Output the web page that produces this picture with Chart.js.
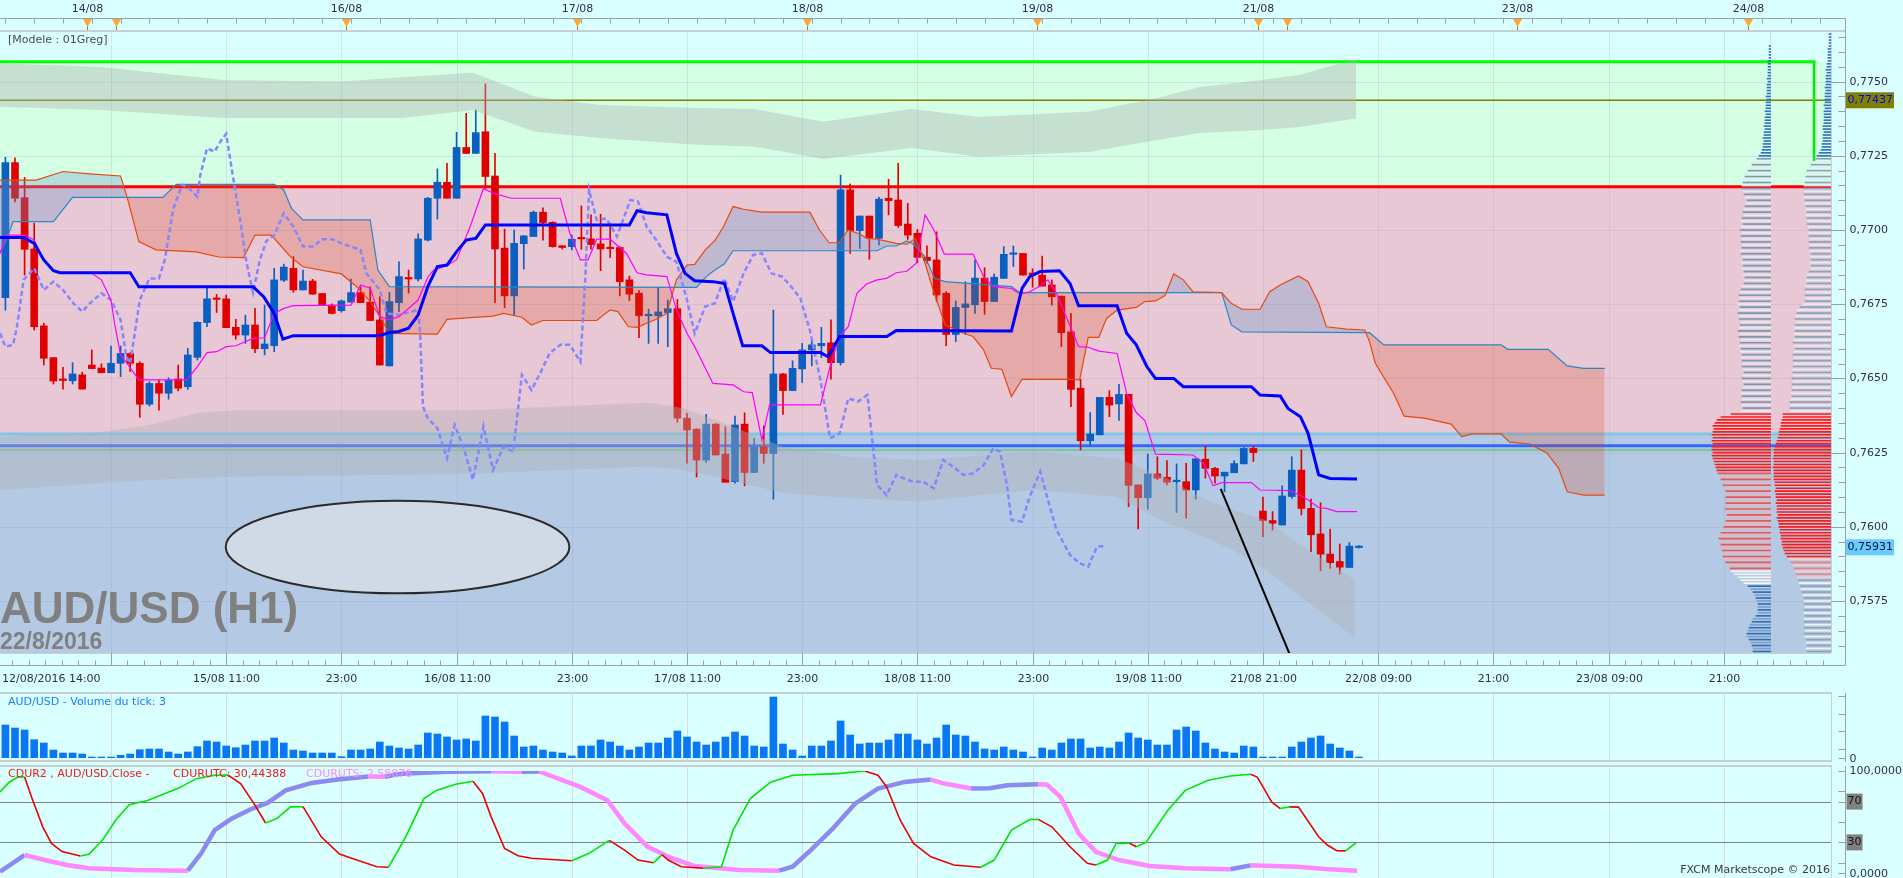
<!DOCTYPE html>
<html>
<head>
<meta charset="utf-8">
<script src="https://cdn.jsdelivr.net/npm/chart.js@4.4.1/dist/chart.umd.min.js"></script>
<style>
  html, body { margin: 0; padding: 0; background: #daffff; overflow: hidden; }
  #wrap { position: relative; width: 1903px; height: 878px; }
  canvas { position: absolute; }
</style>
</head>
<body>
<div id="wrap">
  <canvas id="main" width="1903" height="690" style="left:0;top:0"></canvas>
  <canvas id="profL" width="71" height="690" style="left:1700px;top:0"></canvas>
  <canvas id="profR" width="71" height="690" style="left:1760px;top:0"></canvas>
  <canvas id="vol" width="1903" height="73" style="left:0;top:690px"></canvas>
  <canvas id="osc" width="1903" height="115" style="left:0;top:763px"></canvas>
</div>
<script>
// ---- hourly bars, AUD/USD H1, 12/08/2016 14:00 -> 22/08/2016 07:00 ----
const barOpen = [0.76772,0.77227,0.77109,0.76936,0.76677,0.76570,0.76494,0.76492,0.76512,0.76545,
  0.76535,0.76519,0.76551,0.76584,0.76551,0.76413,0.76483,0.76450,0.76498,0.76472,
  0.76571,0.76688,0.76768,0.76768,0.76672,0.76646,0.76680,0.76600,0.76610,0.76831,
  0.76871,0.76798,0.76828,0.76786,0.76747,0.76728,0.76757,0.76789,0.76757,0.76697,
  0.76542,0.76755,0.76837,0.76835,0.76966,0.77107,0.77161,0.77107,0.77278,0.77258,
  0.77331,0.77182,0.76939,0.76778,0.76954,0.76978,0.77060,0.77026,0.76947,0.76944,
  0.76971,0.76970,0.76953,0.76938,0.76941,0.76832,0.76787,0.76711,0.76711,0.76722,
  0.76735,0.76366,0.76329,0.76225,0.76346,0.76245,0.76152,0.76346,0.76183,0.76270,
  0.76247,0.76515,0.76459,0.76532,0.76596,0.76610,0.76620,0.76553,0.77135,0.76998,
  0.77047,0.76972,0.77107,0.77101,0.77020,0.76989,0.76908,0.76899,0.76787,0.76648,
  0.76739,0.76748,0.76838,0.76759,0.76837,0.76918,0.76921,0.76851,0.76848,0.76815,
  0.76777,0.76657,0.76467,0.76290,0.76310,0.76436,0.76414,0.76446,0.76141,0.76098,
  0.76178,0.76167,0.76152,0.76152,0.76124,0.76228,0.76197,0.76171,0.76182,0.76212,
  0.76264,0.76053,0.76021,0.76006,0.76102,0.76191,0.76062,0.75976,0.75908,0.75883,
  0.75863,0.75930];
const barHigh = [0.77245,0.77243,0.77177,0.77023,0.76686,0.76570,0.76537,0.76553,0.76521,0.76596,
  0.76549,0.76609,0.76609,0.76587,0.76556,0.76489,0.76494,0.76502,0.76545,0.76601,
  0.76691,0.76807,0.76783,0.76781,0.76699,0.76713,0.76736,0.76747,0.76871,0.76885,
  0.76910,0.76865,0.76834,0.76786,0.76751,0.76764,0.76835,0.76809,0.76809,0.76775,
  0.76790,0.76893,0.76865,0.76987,0.77110,0.77206,0.77225,0.77329,0.77393,0.77404,
  0.77492,0.77258,0.77003,0.77000,0.76982,0.77064,0.77075,0.77028,0.76947,0.76983,
  0.77081,0.77051,0.77053,0.77022,0.76944,0.76845,0.76796,0.76733,0.76807,0.76764,
  0.76766,0.76382,0.76331,0.76379,0.76348,0.76337,0.76373,0.76384,0.76298,0.76340,
  0.76730,0.76517,0.76559,0.76618,0.76629,0.76672,0.76697,0.77185,0.77155,0.77047,
  0.77047,0.77110,0.77171,0.77225,0.77090,0.77002,0.76947,0.76994,0.76792,0.76761,
  0.76826,0.76899,0.76873,0.76852,0.76944,0.76946,0.76921,0.76869,0.76912,0.76832,
  0.76777,0.76719,0.76497,0.76385,0.76436,0.76459,0.76480,0.76446,0.76141,0.76245,
  0.76236,0.76223,0.76212,0.76214,0.76229,0.76272,0.76200,0.76184,0.76223,0.76267,
  0.76272,0.76100,0.76051,0.76138,0.76236,0.76259,0.76093,0.76081,0.75992,0.75942,
  0.75947,0.75937];
const barLow = [0.76730,0.77095,0.76848,0.76663,0.76545,0.76481,0.76464,0.76481,0.76464,0.76533,
  0.76519,0.76519,0.76506,0.76523,0.76369,0.76407,0.76393,0.76430,0.76458,0.76463,
  0.76562,0.76674,0.76722,0.76671,0.76632,0.76618,0.76587,0.76579,0.76590,0.76826,
  0.76790,0.76798,0.76783,0.76747,0.76717,0.76723,0.76757,0.76755,0.76695,0.76545,
  0.76542,0.76725,0.76787,0.76828,0.76963,0.77037,0.77107,0.77107,0.77258,0.77258,
  0.77140,0.76755,0.76738,0.76714,0.76868,0.76978,0.76966,0.76942,0.76936,0.76933,
  0.76935,0.76935,0.76863,0.76907,0.76778,0.76762,0.76637,0.76618,0.76618,0.76607,
  0.76352,0.76214,0.76168,0.76216,0.76242,0.76150,0.76147,0.76138,0.76183,0.76214,
  0.76093,0.76379,0.76459,0.76486,0.76542,0.76570,0.76497,0.76545,0.76921,0.76938,
  0.76901,0.76949,0.77051,0.77009,0.76968,0.76890,0.76888,0.76759,0.76610,0.76624,
  0.76648,0.76719,0.76716,0.76759,0.76837,0.76877,0.76848,0.76807,0.76811,0.76747,
  0.76607,0.76405,0.76259,0.76276,0.76310,0.76371,0.76358,0.76068,0.75993,0.76059,
  0.76158,0.76141,0.76048,0.76029,0.76093,0.76164,0.76147,0.76118,0.76182,0.76212,
  0.76220,0.75967,0.75989,0.76006,0.76096,0.76040,0.75916,0.75852,0.75860,0.75841,
  0.75863,0.75928];
const barClose = [0.77227,0.77107,0.76935,0.76674,0.76568,0.76491,0.76493,0.76515,0.76464,0.76533,
  0.76519,0.76551,0.76584,0.76551,0.76413,0.76483,0.76450,0.76494,0.76467,0.76579,
  0.76689,0.76768,0.76766,0.76671,0.76646,0.76680,0.76600,0.76616,0.76832,0.76875,
  0.76798,0.76828,0.76784,0.76747,0.76719,0.76761,0.76789,0.76755,0.76695,0.76545,
  0.76759,0.76843,0.76835,0.76970,0.77107,0.77161,0.77107,0.77278,0.77258,0.77328,
  0.77180,0.76936,0.76778,0.76955,0.76980,0.77060,0.77025,0.76944,0.76941,0.76969,
  0.76970,0.76951,0.76936,0.76937,0.76826,0.76784,0.76711,0.76712,0.76724,0.76735,
  0.76366,0.76326,0.76225,0.76346,0.76242,0.76150,0.76343,0.76183,0.76270,0.76247,
  0.76515,0.76459,0.76534,0.76596,0.76613,0.76618,0.76553,0.77135,0.76998,0.77047,
  0.76972,0.77104,0.77099,0.77015,0.76983,0.76908,0.76897,0.76781,0.76648,0.76739,
  0.76751,0.76838,0.76759,0.76841,0.76918,0.76920,0.76848,0.76850,0.76811,0.76775,
  0.76654,0.76463,0.76290,0.76313,0.76436,0.76410,0.76446,0.76139,0.76098,0.76178,
  0.76164,0.76150,0.76153,0.76124,0.76229,0.76197,0.76171,0.76184,0.76213,0.76264,
  0.76250,0.76021,0.76012,0.76104,0.76191,0.76062,0.75973,0.75908,0.75879,0.75864,
  0.75935,0.75935];
const volume = [1485,1350,1260,824,675,360,225,225,180,32, 32,32,122,180,374,405,405,270,180,270,
  509,765,720,540,464,585,765,765,900,675, 360,315,225,225,225,59,360,360,405,720,
  540,450,405,585,1125,1080,945,810,855,765, 1890,1845,1620,990,495,540,360,270,225,90,
  540,540,810,720,540,360,495,675,675,900, 1215,945,720,585,720,945,1170,990,540,495,
  2745,630,360,90,540,540,765,1665,1035,630, 675,675,810,1080,1080,810,630,900,1485,1035,
  990,720,405,360,495,360,270,45,450,360, 675,855,855,450,495,450,720,1125,900,810,
  585,585,1260,1395,1215,675,405,270,225,540, 495,8,8,8,495,720,900,990,630,450,
  315,3];

// ---- ichimoku & overlays: [bar index, price] ----
const kijun = [[-0.56,0.76975],[1.9,0.76975],[3,0.76955],[4,0.76899],[5,0.76863],[5.7,0.76856],[13,0.76856],[13.9,0.76809],[25.8,0.76809],[26.9,0.76775],[28,0.76719],[28.9,0.76632],[30,0.76644],[39,0.76644],[40,0.76655],[41,0.76658],[42,0.76669],[43,0.76714],[44,0.76809],[45,0.76877],[46,0.76882],[47,0.76927],[48,0.76966],[49,0.76972],[50,0.77017],[65,0.77017],[65.8,0.77065],[66.8,0.77058],[68.9,0.77051],[69.9,0.76921],[70.8,0.76854],[71.8,0.76829],[73.7,0.76826],[74.9,0.76820],[75.8,0.76719],[76.8,0.76610],[78.8,0.76610],[79.7,0.76587],[84.9,0.76587],[85.7,0.76573],[86.9,0.76641],[91.8,0.76641],[92.8,0.76661],[104.8,0.76660],[105.9,0.76803],[106.7,0.76843],[107.8,0.76860],[109.8,0.76863],[110.9,0.76820],[111.8,0.76745],[115.8,0.76745],[116.8,0.76652],[117.8,0.76613],[118.9,0.76540],[119.8,0.76500],[121.7,0.76500],[122.7,0.76472],[129.8,0.76472],[130.7,0.76444],[132.8,0.76441],[133.6,0.76399],[134.9,0.76371],[135.7,0.76315],[136.8,0.76175],[138,0.76163],[140.8,0.76161]];
const tenkan = [[-0.56,0.76921],[0.1,0.76983],[2,0.76983],[3,0.76966],[4,0.76899],[5,0.76863],[5.7,0.76856],[9,0.76854],[10,0.76832],[11,0.76764],[11.4,0.76680],[12,0.76579],[12.8,0.76545],[13.9,0.76495],[18.9,0.76495],[20,0.76540],[21,0.76587],[22,0.76590],[23,0.76607],[24,0.76610],[25.8,0.76635],[27,0.76637],[28,0.76719],[29,0.76736],[30,0.76745],[36,0.76747],[37,0.76815],[38,0.76804],[39,0.76708],[40,0.76697],[41,0.76708],[43,0.76764],[44,0.76841],[44.6,0.76865],[46,0.76880],[47,0.76900],[48.4,0.77010],[49.8,0.77140],[50.8,0.77124],[52.7,0.77107],[57.8,0.77107],[58.8,0.76989],[59.9,0.76899],[60.7,0.76899],[61.6,0.76969],[63,0.76969],[64.7,0.76921],[65.8,0.76856],[66.8,0.76849],[68.9,0.76843],[69.9,0.76731],[71,0.76652],[71.8,0.76607],[73.7,0.76483],[75.8,0.76478],[76.9,0.76455],[77.8,0.76452],[78.8,0.76293],[79.6,0.76411],[84.9,0.76411],[85.9,0.76540],[86.9,0.76641],[87.8,0.76674],[88.7,0.76787],[89.7,0.76818],[90.8,0.76832],[91.8,0.76837],[92.8,0.76856],[93.9,0.76861],[94.9,0.76888],[95.8,0.77051],[96.7,0.77002],[97.8,0.76919],[100.8,0.76919],[101.9,0.76843],[102.9,0.76809],[104.8,0.76803],[105.7,0.76784],[106.7,0.76792],[107.8,0.76811],[108.6,0.76832],[109.5,0.76787],[110.5,0.76708],[111.8,0.76607],[112.8,0.76605],[113.9,0.76592],[115.8,0.76584],[116.8,0.76450],[117.8,0.76385],[118.7,0.76358],[119.8,0.76245],[123.7,0.76242],[124.8,0.76214],[125.8,0.76138],[126.7,0.76149],[129.8,0.76149],[130.7,0.76124],[133.8,0.76122],[134.7,0.76109],[135.7,0.76090],[136.8,0.76065],[137.6,0.76062],[138.7,0.76051],[140.8,0.76051]];
const chikou = [[-0.56,0.76652],[0,0.76607],[0.8,0.76613],[1.2,0.76674],[1.9,0.76832],[3,0.76871],[4,0.76798],[5,0.76826],[6,0.76798],[7.1,0.76753],[8,0.76725],[8.8,0.76753],[10,0.76787],[11,0.76764],[12,0.76697],[12.6,0.76573],[13,0.76551],[13.5,0.76658],[14,0.76764],[15,0.76837],[16,0.76837],[16.6,0.76899],[17.5,0.77073],[18.4,0.77152],[19,0.77144],[20,0.77112],[20.3,0.77185],[21,0.77275],[21.8,0.77264],[22.4,0.77298],[23,0.77324],[23.7,0.77180],[24.4,0.77045],[25.1,0.76893],[25.8,0.76789],[26.5,0.76899],[27.2,0.76964],[28,0.76983],[29,0.77056],[30,0.77011],[31,0.76944],[32,0.76944],[33,0.76969],[34,0.76969],[35,0.76955],[36,0.76944],[37,0.76933],[37.6,0.76854],[39,0.76798],[39.7,0.76719],[41,0.76714],[43,0.76731],[43.2,0.76652],[43.5,0.76405],[44,0.76366],[45,0.76332],[46,0.76231],[46.8,0.76343],[47.7,0.76270],[48.7,0.76158],[49.8,0.76338],[50.8,0.76191],[51.9,0.76270],[52.9,0.76253],[53.8,0.76512],[54.8,0.76461],[55.7,0.76517],[56.7,0.76585],[57.8,0.76613],[58.8,0.76613],[59.9,0.76556],[60.4,0.76832],[60.8,0.77135],[61.6,0.77034],[62.6,0.77039],[63.7,0.76978],[65.1,0.77101],[65.9,0.77096],[66.8,0.77011],[67.8,0.76966],[68.9,0.76910],[69.9,0.76893],[71,0.76764],[71.8,0.76652],[72.9,0.76742],[73.9,0.76753],[74.9,0.76837],[75.8,0.76759],[76.9,0.76854],[77.9,0.76916],[78.8,0.76922],[79.8,0.76854],[80.9,0.76843],[81.7,0.76815],[82.8,0.76770],[83.8,0.76663],[84.9,0.76495],[85.9,0.76298],[86.9,0.76315],[87.8,0.76433],[88.8,0.76422],[89.8,0.76444],[90.8,0.76141],[91.8,0.76107],[92.8,0.76175],[93.8,0.76160],[94.6,0.76152],[95.6,0.76152],[96.7,0.76130],[97.7,0.76225],[98.7,0.76203],[99.8,0.76175],[100.8,0.76180],[101.9,0.76208],[102.9,0.76264],[103.6,0.76253],[104.3,0.76147],[104.8,0.76023],[105.9,0.76017],[106.7,0.76102],[107.8,0.76186],[108.6,0.76090],[109.5,0.75989],[110.9,0.75905],[111.9,0.75877],[112.8,0.75866],[113.7,0.75933],[114.7,0.75935]];
const senkouA = [[-0.56,0.77168],[3.2,0.77168],[6,0.77197],[8.8,0.77189],[12,0.77182],[12.7,0.77108],[13.9,0.76961],[15.7,0.76933],[19.9,0.76926],[22.2,0.76909],[24.8,0.76907],[26,0.76983],[27.7,0.76983],[29.7,0.76910],[31,0.76876],[35,0.76852],[36.6,0.76809],[38,0.76759],[39,0.76708],[40,0.76652],[45,0.76649],[46,0.76699],[47.3,0.76702],[50.8,0.76710],[51.9,0.76719],[53.8,0.76706],[54.8,0.76680],[56,0.76695],[61.6,0.76695],[63,0.76731],[63.8,0.76725],[64.9,0.76674],[65.8,0.76672],[67.8,0.76699],[68.9,0.76719],[69.9,0.76832],[71,0.76882],[71.8,0.76884],[72.9,0.76933],[73.9,0.76964],[74.8,0.77011],[75.8,0.77079],[76.9,0.77070],[78.8,0.77060],[83.8,0.77060],[84.8,0.77000],[85.8,0.76957],[86.8,0.76957],[87.8,0.77000],[88.8,0.76989],[89.8,0.76972],[90.8,0.76969],[92.8,0.76955],[93.9,0.76952],[94.8,0.76972],[95.8,0.76888],[96.7,0.76792],[97.9,0.76680],[99.8,0.76652],[100.8,0.76641],[101.9,0.76596],[102.7,0.76534],[103.8,0.76531],[104.8,0.76439],[105.9,0.76497],[110.7,0.76497],[111.9,0.76495],[112.8,0.76638],[113.9,0.76638],[114.7,0.76702],[115.8,0.76730],[117.8,0.76739],[118.7,0.76759],[119.8,0.76761],[120.8,0.76779],[121.7,0.76852],[122.7,0.76832],[123.7,0.76792],[126.7,0.76789],[127.7,0.76753],[128.8,0.76733],[130.7,0.76733],[131.7,0.76792],[132.8,0.76815],[134.7,0.76845],[135.7,0.76826],[136.8,0.76753],[137.6,0.76674],[139.7,0.76666],[141.6,0.76663],[142.1,0.76624],[142.7,0.76551],[144.6,0.76450],[145.7,0.76373],[147.8,0.76366],[150.6,0.76346],[151.7,0.76304],[152.8,0.76313],[155.8,0.76313],[156.7,0.76285],[158.8,0.76279],[160.6,0.76248],[161.8,0.76197],[162.7,0.76118],[164.4,0.76107],[166.6,0.76107]];
const senkouB = [[-0.56,0.76921],[0.1,0.76966],[0.8,0.77028],[5,0.77028],[7,0.77110],[16.4,0.77110],[17.8,0.77154],[28,0.77154],[29,0.77135],[29.8,0.77073],[31,0.77034],[38,0.77034],[38.8,0.76865],[40,0.76809],[72,0.76807],[73,0.76843],[73.9,0.76865],[74.9,0.76886],[75.8,0.76930],[90.8,0.76930],[91.8,0.76946],[92.8,0.76946],[93.9,0.76963],[94.6,0.76952],[95.8,0.76910],[96.8,0.76837],[97.9,0.76826],[104.8,0.76809],[105.7,0.76789],[126.7,0.76789],[127.7,0.76680],[128.8,0.76657],[142.1,0.76654],[143.6,0.76613],[155.8,0.76613],[156.5,0.76598],[160.7,0.76598],[162.7,0.76542],[164.4,0.76534],[166.6,0.76534]];

const upperBandX = [-0.56,10,22.7,35,41.3,48.7,55.2,61.9,72.4,78,85.2,94.4,101.4,113,120,124.4,130.8,134.8,138.4,140.7];
const upperBandTop = [0.77562,0.77549,0.77505,0.77500,0.77515,0.77530,0.77449,0.77421,0.77411,0.77408,0.77365,0.77408,0.77381,0.77399,0.77445,0.77482,0.77505,0.77522,0.77556,0.77573];
const upperBandBottom = [0.77415,0.77404,0.77377,0.77377,0.77377,0.77404,0.77331,0.77310,0.77286,0.77281,0.77239,0.77276,0.77247,0.77264,0.77303,0.77327,0.77337,0.77347,0.77365,0.77376];
const lowerBandX = [-0.56,9.9,15,20,24,48,67.1,70.5,74,75.8,81,87.9,95.2,107,115.7,121,124.4,127.9,131.3,134.9,140.6];
const lowerBandTop = [0.76303,0.76319,0.76343,0.76383,0.76393,0.76393,0.76418,0.76400,0.76360,0.76337,0.76270,0.76236,0.76225,0.76253,0.76232,0.76164,0.76101,0.76057,0.76023,0.75939,0.75821];
const lowerBandBottom = [0.76124,0.76147,0.76158,0.76164,0.76169,0.76178,0.76203,0.76191,0.76169,0.76154,0.76114,0.76097,0.76085,0.76124,0.76101,0.76013,0.75972,0.75922,0.75854,0.75765,0.75625];
const trendLine = [[126.6,0.76128],[134.9,0.75484]];
const ellipseMark = { i: 40.85, price: 0.75932, halfBars: 17.9, halfPrice: 0.00156 };

// ---- price levels (zones / horizontal lines) ----
const levelGreen = 0.77567, levelOlive = 0.77437, levelRed = 0.77146;
const levelZone = 0.76313, levelBlue = 0.76273, levelSea = 0.76259;
const greenCorner = { i: 188.4, price: 0.77229 };
const lastPrice = 0.75931;

// ---- oscillator CDUR2: [bar index, value] ----
const cdurUTC = [[-0.56,79.5],[0.4,89],[1.3,94],[2,94.2],[2.7,75],[3.9,45],[4.8,29],[5.9,21],[7.8,16.6],[8.7,18.3],[10.1,32],[11.5,52],[12.9,67],[14.8,71],[18,83],[19.9,92.5],[21.8,95.8],[23.2,96],[24.5,87.7],[25.9,68],[27.1,49],[28.3,53.5],[29.7,64.8],[31,65],[32.9,35.5],[34.8,18.6],[36.6,12.7],[38.7,6.2],[39.9,5.6],[41.7,35.5],[43.6,73],[44.9,81],[46.9,87],[48.7,90],[49.7,78],[50.6,55],[52,24],[53.4,17],[54.8,14.4],[59,12],[60.8,19.3],[62.9,32],[64.5,22.5],[65.9,12.7],[67.5,10],[68.4,18],[69,13],[70.4,6.2],[72.7,4.6],[74.6,6.2],[75.8,42],[77.6,73],[79.7,89],[82,95.8],[86.7,97.4],[89.5,100],[90.9,95.8],[91.8,84.4],[93.2,52],[94.6,29],[96.4,15.9],[98.8,7.8],[101.6,5.6],[103,12.7],[104.8,42],[106.7,52.4],[107.6,52.6],[109,45.3],[110.9,25.7],[112.7,9.5],[113.6,7.8],[114.8,12.7],[115.7,29],[117.1,29.2],[117.8,25.7],[118.8,30],[121.1,61.6],[122.9,81],[125.3,91],[127.6,95.1],[129.7,96.8],[130.4,94],[131,84.4],[131.9,69.7],[132.8,63.2],[133.8,64.8],[134.7,64.6],[136.8,35.5],[137.7,27.4],[138.7,21.8],[139.6,21.7],[140.7,29.6]];
const cdurUTS = [[-0.56,1.3],[2,17.6],[4.1,12.7],[6.4,7.8],[8.7,4.6],[13.4,2.9],[19,2.3],[20.4,19.3],[21.8,42],[23.6,53.5],[25.5,62.3],[27.3,68.7],[29.2,81],[31.9,88.3],[34.6,91.6],[37.8,94.6],[39.5,94.3],[41.3,97.4],[46,99.2],[50.6,99.8],[53.8,99.3],[55.6,99.5],[57.6,92.5],[59.9,84.4],[62.7,71.4],[64.5,48.6],[66.9,25.7],[69.3,15],[71.8,6.8],[76.5,2.9],[80.6,2.3],[82,6.2],[83.9,22.5],[86.2,43.7],[88.5,68],[90.9,82.8],[93.7,89.3],[96.4,91.6],[97.8,87.7],[100.6,82.8],[102.5,83],[104.4,86],[107.6,87],[108.5,86.5],[109.9,74.6],[111.8,38.8],[113.6,20.8],[116,12.7],[119.2,6.8],[122.9,4.6],[127.6,3.6],[129.7,7.5],[130.4,7.3],[134.6,6.2],[137.5,3.9],[140.8,2.3]];

// ---- volume profile, one value per 0.0001 from 0.7766 down ----
const profTop = 0.7766, profStep = 0.0001;
const profileLeft = [0,0,0,0,2,2,2,2,2,3, 3,3,3,3,3,4,3,4,4,4, 4,5,4,5,5,5,6,5,6,6, 6,7,6,7,7,8,7,8,8,9,
  10,12,14,17,19,21,23,26,26,27, 28,29,29,28,27,26,24,25,26,27, 28,27,29,30,28,30,31,29,30,29,
  30,28,29,31,30,29,28,30,28,29, 27,28,26,26,27,29,30,31,32,31, 32,33,31,32,33,31,32,30,31,32,
  33,31,32,30,31,32,30,31,29,30, 29,28,29,28,27,28,29,28,27,28, 29,30,29,28,30,29,28,30,40,50,
  54,56,58,57,58,59,58,59,58,59, 59,58,59,58,57,56,55,54,53,51, 50,49,48,46,45,46,45,44,45,45,
  46,45,44,45,45,46,47,48,50,52, 52,51,50,51,49,49,48,47,45,43, 41,40,37,33,30,27,23,20,18,16,
  15,14,13,13,13,13,15,18,19,21, 22,23,24,24,22,20,19,18,18];
const profileRight = [2,2,2,2,2,3,3,3,3,3, 4,4,5,4,5,5,5,5,6,5, 6,6,6,6,7,6,7,7,7,7, 7,8,8,7,8,8,8,9,9,10,
  12,14,17,19,20,22,24,24,25,26, 26,27,27,27,27,27,26,26,25,25, 24,25,24,23,24,23,22,23,22,21,
  22,21,22,21,20,21,20,21,20,20, 22,23,24,25,24,25,26,25,26,25, 26,28,31,34,34,35,36,35,36,37,
  36,37,36,37,38,37,36,37,38,37, 38,37,38,39,38,38,39,38,39,38, 39,40,39,40,41,40,41,40,48,48,
  49,50,50,51,52,52,53,54,55,56, 57,57,57,58,57,57,58,57,57,57, 57,56,56,55,56,55,55,54,55,54,
  54,54,53,54,53,52,52,51,51,50, 50,49,49,48,47,46,44,42,40,38, 37,36,35,34,33,32,31,30,29,28,
  27,27,27,26,27,27,26,27,27,26, 27,26,27,26,25,25,24,25,24];

// ---- axis labels ----
const dayMarkIdx = [8.5, 11.5, 35.5, 59.5, 83.5, 107.5, 130.5, 133.5, 157.5, 181.5];
const dayMarkText = ['14/08', '', '16/08', '17/08', '18/08', '19/08', '21/08', '', '23/08', '24/08'];
const timeTickIdx = [11, 23, 35, 47, 59, 71, 83, 95, 107, 119, 131, 143, 155, 167, 179];
const timeTickText = ['', '15/08 11:00', '23:00', '16/08 11:00', '23:00', '17/08 11:00', '23:00',
  '18/08 11:00', '23:00', '19/08 11:00', '21/08 21:00', '22/08 09:00', '21:00', '23/08 09:00', '21:00'];
const firstBarText = '12/08/2016 14:00';
const priceTicks = [0.7750, 0.7725, 0.7700, 0.7675, 0.7650, 0.7625, 0.7600, 0.7575];

// ---------------------------------------------------------------
const xMin = -0.5625, xMax = 190.17;
const priceMin = 0.755748, priceMax = 0.776671;
const AXIS_X = 1845.5, PLOT_R = 1831;
const FONT = '11px "DejaVu Sans"';
const TXT = '#2e2e4e';
const UP = '#0a5fc0', DOWN = '#e00000';

Chart.defaults.font.family = '"DejaVu Sans"';
const barIdx = barOpen.map((_, i) => i);
const pts = arr => arr.map(([x, y]) => ({ x, y }));
const candleColor = i => (barClose[i] >= barOpen[i] ? UP : DOWN);

function line(ctx, x1, y1, x2, y2) {
  ctx.beginPath(); ctx.moveTo(x1, y1); ctx.lineTo(x2, y2); ctx.stroke();
}
const fmt = (p, d) => p.toFixed(d).replace('.', ',');

const baseOpts = {
  responsive: false,
  animation: false,
  events: [],
  plugins: { legend: { display: false }, tooltip: { enabled: false } }
};
const xScale = { type: 'linear', min: xMin, max: xMax, display: false, offset: false, bounds: 'data' };

const mainDecor = {
  id: 'mainDecor',
  beforeDatasetsDraw(chart) {
    const { ctx, chartArea: a, scales: { x, y } } = chart;
    ctx.save();
    const zone = (p1, p2, color) => {
      const y1 = p1 === null ? a.top : y.getPixelForValue(p1);
      const y2 = p2 === null ? a.bottom : y.getPixelForValue(p2);
      ctx.fillStyle = color;
      ctx.fillRect(a.left, y1, a.right - a.left, y2 - y1);
    };
    zone(null, levelGreen, '#daffff');
    zone(levelGreen, levelRed, '#d4ffe4');
    zone(levelRed, levelZone, '#e8c8d4');
    zone(levelZone, null, '#b4cae4');

    ctx.lineWidth = 1;
    ctx.strokeStyle = 'rgba(150,150,190,0.22)';
    timeTickIdx.forEach(t => {
      const px = Math.round(x.getPixelForValue(t)) + 0.5;
      line(ctx, px, a.top, px, a.bottom);
    });
    priceTicks.forEach(p => {
      const py = Math.round(y.getPixelForValue(p)) + 0.5;
      line(ctx, a.left, py, a.right, py);
    });

    const hl = (p, color, w, xEnd) => {
      ctx.strokeStyle = color; ctx.lineWidth = w;
      const py = y.getPixelForValue(p);
      line(ctx, a.left, py, xEnd === undefined ? a.right : xEnd, py);
    };
    hl(levelOlive, '#808000', 1.5);
    hl(levelRed, '#ff0000', 3);
    hl(levelZone, '#80c6e6', 3);
    hl(levelSea, '#84c2a4', 2.5);
    hl(levelBlue, '#3366ff', 3);
    const cx = x.getPixelForValue(greenCorner.i);
    hl(levelGreen, '#00ff00', 3, cx + 1.5);
    ctx.strokeStyle = '#00ee00'; ctx.lineWidth = 2.5;
    line(ctx, cx, y.getPixelForValue(levelGreen), cx, y.getPixelForValue(greenCorner.price));
    ctx.restore();
  },
  afterDatasetsDraw(chart) {
    const { ctx, chartArea: a, scales: { x, y } } = chart;
    ctx.save();
    const ex = x.getPixelForValue(ellipseMark.i), ey = y.getPixelForValue(ellipseMark.price);
    const rx = x.getPixelForValue(ellipseMark.i + ellipseMark.halfBars) - ex;
    const ry = y.getPixelForValue(ellipseMark.price - ellipseMark.halfPrice) - ey;
    ctx.beginPath();
    ctx.ellipse(ex, ey, rx, ry, 0, 0, Math.PI * 2);
    ctx.fillStyle = '#d0dae6'; ctx.fill();
    ctx.lineWidth = 2; ctx.strokeStyle = '#2a2a2a'; ctx.stroke();

    ctx.fillStyle = '#808080';
    ctx.textBaseline = 'alphabetic'; ctx.textAlign = 'left';
    ctx.font = 'bold 44px "Liberation Sans"';
    ctx.fillText('AUD/USD (H1)', a.left, 623);
    ctx.font = 'bold 23px "Liberation Sans"';
    ctx.fillText('22/8/2016', a.left, 649);
    ctx.font = FONT; ctx.fillStyle = '#4a4a5a';
    ctx.textBaseline = 'middle';
    ctx.fillText('[Modele : 01Greg]', a.left + 8, 40);
    ctx.restore();
  },
  afterDraw(chart) {
    const { ctx, chartArea: a, scales: { x, y } } = chart;
    ctx.save();
    ctx.font = FONT; ctx.textBaseline = 'middle';
    // plot frame
    ctx.fillStyle = '#c6d0d4';
    ctx.fillRect(0, a.top - 2, AXIS_X, 2);
    ctx.fillRect(a.right, a.top, 1, a.bottom - a.top);
    ctx.fillRect(0, a.bottom, a.right, 1);

    // top time axis
    ctx.strokeStyle = '#98a2a6'; ctx.lineWidth = 1;
    line(ctx, 0, 18.5, AXIS_X, 18.5);
    for (let t = 0; t <= 189; t += 3) {
      const px = Math.round(x.getPixelForValue(t)) + 0.5;
      line(ctx, px, 18.5, px, 23.5);
    }
    ctx.textAlign = 'center';
    dayMarkIdx.forEach((d, k) => {
      const px = Math.round(x.getPixelForValue(d)) + 0.5;
      ctx.strokeStyle = '#b07a2a'; ctx.lineWidth = 1;
      line(ctx, px, 19, px, 30);
      ctx.fillStyle = '#ffa630';
      ctx.beginPath(); ctx.moveTo(px - 4.5, 19); ctx.lineTo(px + 4.5, 19); ctx.lineTo(px, 27); ctx.closePath(); ctx.fill();
      if (dayMarkText[k]) { ctx.fillStyle = TXT; ctx.fillText(dayMarkText[k], px, 9); }
    });

    // bottom time axis
    const axY = a.bottom + 12.5;
    ctx.strokeStyle = '#98a2a6';
    line(ctx, 0, axY, AXIS_X, axY);
    ctx.fillStyle = TXT;
    timeTickIdx.forEach((t, k) => {
      const px = Math.round(x.getPixelForValue(t)) + 0.5;
      line(ctx, px, a.bottom, px, axY);
      for (let j = 1; j < 7; j++) {
        const m = t - 12 + j * 12 / 7;
        const mx = Math.round(x.getPixelForValue(m)) + 0.5;
        if (mx > 0) line(ctx, mx, axY - 5, mx, axY);
      }
      if (timeTickText[k]) ctx.fillText(timeTickText[k], px, a.bottom + 26);
    });
    for (let j = 1; j < 7; j++) {
      const m = timeTickIdx[timeTickIdx.length - 1] + j * 12 / 7;
      const mx = Math.round(x.getPixelForValue(m)) + 0.5;
      if (mx < a.right) line(ctx, mx, axY - 5, mx, axY);
    }
    ctx.textAlign = 'left';
    ctx.fillText(firstBarText, 2, a.bottom + 26);

    // right price axis
    ctx.strokeStyle = '#98a2a6';
    line(ctx, AXIS_X, 18, AXIS_X, axY);
    for (let k = 0; k <= 42; k++) {
      const p = 0.7560 + k * 0.0005;
      const py = Math.round(y.getPixelForValue(p)) + 0.5;
      if (py > a.top && py < a.bottom) line(ctx, AXIS_X - 7, py, AXIS_X, py);
    }
    priceTicks.forEach(p => {
      const py = Math.round(y.getPixelForValue(p)) + 0.5;
      line(ctx, a.right, py, AXIS_X, py);
      ctx.fillStyle = TXT;
      ctx.fillText(fmt(p, 4), AXIS_X + 4, py);
    });
    const box = (p, bg, fg) => {
      const py = y.getPixelForValue(p);
      ctx.fillStyle = bg; ctx.fillRect(AXIS_X + 0.5, py - 8, 48, 16);
      ctx.fillStyle = fg; ctx.fillText(fmt(p, 5), AXIS_X + 2, py);
    };
    box(levelOlive, '#808000', '#0000ff');
    box(lastPrice, '#66ccff', '#101030');
    ctx.restore();
  }
};

new Chart(document.getElementById('main'), {
  type: 'bar',
  data: {
    datasets: [
      { type: 'bar', data: barIdx.map(i => ({ x: i, y: [barLow[i], barHigh[i]] })),
        backgroundColor: c => candleColor(c.dataIndex), barThickness: 1, grouped: false, order: 11 },
      { type: 'bar', data: barIdx.map(i => ({ x: i, y: [barOpen[i], barClose[i]] })),
        backgroundColor: c => candleColor(c.dataIndex), barThickness: 7, minBarLength: 1.5, grouped: false, order: 10 },
      { type: 'line', data: upperBandX.map((v, k) => ({ x: v, y: upperBandBottom[k] })),
        borderColor: 'transparent', borderWidth: 0, pointRadius: 0, fill: false, order: 6 },
      { type: 'line', data: upperBandX.map((v, k) => ({ x: v, y: upperBandTop[k] })),
        borderColor: 'transparent', borderWidth: 0, pointRadius: 0, fill: '-1', backgroundColor: 'rgba(175,175,180,0.40)', order: 6 },
      { type: 'line', data: lowerBandX.map((v, k) => ({ x: v, y: lowerBandBottom[k] })),
        borderColor: 'transparent', borderWidth: 0, pointRadius: 0, fill: false, order: 6 },
      { type: 'line', data: lowerBandX.map((v, k) => ({ x: v, y: lowerBandTop[k] })),
        borderColor: 'transparent', borderWidth: 0, pointRadius: 0, fill: '-1', backgroundColor: 'rgba(175,175,180,0.40)', order: 6 },
      { type: 'line', data: pts(senkouA), borderColor: '#e44a10', borderWidth: 1.2, pointRadius: 0,
        fill: { target: '+1', above: 'rgba(110,150,200,0.32)', below: 'rgba(215,70,20,0.23)' }, order: 4 },
      { type: 'line', data: pts(senkouB), borderColor: '#1a8ccf', borderWidth: 1.2, pointRadius: 0, fill: false, order: 4 },
      { type: 'line', data: pts(chikou), borderColor: '#8585ff', borderWidth: 2.5, borderDash: [5, 3],
        pointRadius: 0, fill: false, order: 3 },
      { type: 'line', data: pts(tenkan), borderColor: '#ff00ff', borderWidth: 1.2, pointRadius: 0, fill: false, order: 2 },
      { type: 'line', data: pts(kijun), borderColor: '#0000ff', borderWidth: 3, pointRadius: 0, fill: false, order: 1 },
      { type: 'line', data: pts(trendLine), borderColor: '#000000', borderWidth: 2, pointRadius: 0, fill: false, order: 1 }
    ]
  },
  options: {
    ...baseOpts,
    layout: { padding: { left: 0, right: 1903 - PLOT_R, top: 32, bottom: 37 } },
    scales: {
      x: xScale,
      y: { type: 'linear', min: priceMin, max: priceMax, display: false, beginAtZero: false, bounds: 'data' }
    }
  },
  plugins: [mainDecor]
});

// ---- volume profiles ----
function profPrice(k) { return profTop - k * profStep; }
function colorLeft(k) {
  const p = profPrice(k);
  if (p > 0.77245) return '#3272c8';
  if (p >= 0.76385) return k % 2 ? '#e2ecf2' : '#7d96b2';
  if (p >= 0.76185) return '#ff1a1a';
  if (p >= 0.75855) return k % 2 ? '#f2b0b0' : '#e45858';
  if (p >= 0.75805) return '#f4f4f4';
  return k % 2 ? '#7aa0cc' : '#2f6db5';
}
function colorRight(k) {
  const p = profPrice(k);
  if (p > 0.77245) return '#3272c8';
  if (p >= 0.76385) return k % 2 ? '#e2ecf2' : '#8aa2bc';
  if (p >= 0.75890) return '#ff1a1a';
  if (p >= 0.75830) return k % 2 ? '#f8d0d0' : '#ee8080';
  return k % 2 ? '#eef2f4' : '#90a4b8';
}
function profileChart(id, values, colorFn) {
  new Chart(document.getElementById(id), {
    type: 'bar',
    data: { datasets: [{
      data: values.map((v, k) => ({ x: v, y: profPrice(k) })),
      backgroundColor: c => colorFn(c.dataIndex), barThickness: 1, grouped: false
    }] },
    options: {
      ...baseOpts,
      indexAxis: 'y',
      layout: { padding: { left: 0, right: 0, top: 32, bottom: 37 } },
      scales: {
        x: { type: 'linear', min: 0, max: 71, reverse: true, display: false, offset: false },
        y: { type: 'linear', min: priceMin, max: priceMax, display: false, offset: false, bounds: 'data' }
      }
    }
  });
}
profileChart('profL', profileLeft, colorLeft);
profileChart('profR', profileRight, colorRight);

// ---- tick volume panel ----
const volDecor = {
  id: 'volDecor',
  beforeDatasetsDraw(chart) {
    const { ctx, chartArea: a, scales: { x } } = chart;
    ctx.save();
    ctx.strokeStyle = '#d4dede'; ctx.lineWidth = 1;
    timeTickIdx.forEach(t => {
      const px = Math.round(x.getPixelForValue(t)) + 0.5;
      line(ctx, px, a.top, px, a.bottom + 3);
    });
    ctx.restore();
  },
  afterDraw(chart) {
    const { ctx, chartArea: a, scales: { y } } = chart;
    ctx.save();
    ctx.fillStyle = '#c6d0d4';
    ctx.fillRect(0, a.top - 1, PLOT_R + 1, 2);
    ctx.fillRect(0, a.bottom + 2, PLOT_R + 1, 2);
    ctx.fillRect(PLOT_R, a.top, 1, a.bottom - a.top + 3);
    ctx.font = FONT; ctx.textBaseline = 'middle'; ctx.textAlign = 'left';
    ctx.fillStyle = '#1e7cff';
    ctx.fillText('AUD/USD - Volume du tick: ' + volume[volume.length - 1], 8, a.top + 9);
    ctx.strokeStyle = '#98a2a6'; ctx.lineWidth = 1;
    line(ctx, AXIS_X, a.top, AXIS_X, a.bottom + 4);
    [2800, 2000, 1200, 400, 0].forEach(v => {
      const py = Math.round(y.getPixelForValue(v)) + 0.5;
      line(ctx, AXIS_X - 7, py, AXIS_X, py);
    });
    ctx.fillStyle = TXT;
    ctx.fillText('0', AXIS_X + 4, y.getPixelForValue(0) + 1);
    ctx.restore();
  }
};
new Chart(document.getElementById('vol'), {
  type: 'bar',
  data: { datasets: [{
    data: barIdx.map(i => ({ x: i, y: volume[i] })),
    backgroundColor: '#0a78f5', barThickness: 7, minBarLength: 1, grouped: false
  }] },
  options: {
    ...baseOpts,
    layout: { padding: { left: 0, right: 1903 - PLOT_R, top: 3, bottom: 5 } },
    scales: { x: xScale, y: { type: 'linear', min: 0, max: 2925, display: false } }
  },
  plugins: [volDecor]
});

// ---- CDUR2 oscillator panel ----
const oscDecor = {
  id: 'oscDecor',
  beforeDatasetsDraw(chart) {
    const { ctx, chartArea: a, scales: { x, y } } = chart;
    ctx.save();
    ctx.strokeStyle = '#d4dede'; ctx.lineWidth = 1;
    timeTickIdx.forEach(t => {
      const px = Math.round(x.getPixelForValue(t)) + 0.5;
      line(ctx, px, a.top - 4, px, a.bottom + 5);
    });
    ctx.strokeStyle = '#7f7f7f';
    [70, 30].forEach(v => {
      const py = Math.round(y.getPixelForValue(v)) + 0.5;
      line(ctx, a.left, py, a.right, py);
    });
    ctx.restore();
  },
  afterDraw(chart) {
    const { ctx, chartArea: a, scales: { y } } = chart;
    ctx.save();
    ctx.fillStyle = '#c6d0d4';
    ctx.fillRect(0, a.top - 6, PLOT_R + 1, 2);
    ctx.fillRect(PLOT_R, a.top - 5, 1, a.bottom - a.top + 12);
    ctx.font = FONT; ctx.textBaseline = 'middle'; ctx.textAlign = 'left';
    ctx.fillStyle = '#ee1c1c';
    ctx.fillText('CDUR2 , AUD/USD.Close -', 8, a.top + 3);
    ctx.fillText('CDURUTC: 30,44388', 173, a.top + 3);
    ctx.fillStyle = '#ff88ff';
    ctx.fillText('CDURUTS: 2,58876', 306, a.top + 3);

    ctx.strokeStyle = '#98a2a6'; ctx.lineWidth = 1;
    line(ctx, AXIS_X, a.top - 5, AXIS_X, a.bottom + 8);
    [100, 80, 70, 50, 30, 10, 0].forEach(v => {
      const py = Math.round(y.getPixelForValue(v)) + 0.5;
      line(ctx, AXIS_X - 7, py, AXIS_X, py);
    });
    ctx.fillStyle = TXT;
    ctx.fillText('100,0000', AXIS_X + 4, y.getPixelForValue(100));
    ctx.fillText('0,0000', AXIS_X + 4, y.getPixelForValue(0) + 1);
    [70, 30].forEach(v => {
      const py = y.getPixelForValue(v);
      ctx.fillStyle = '#808080'; ctx.fillRect(AXIS_X + 1, py - 8, 16, 16);
      ctx.fillStyle = '#111111'; ctx.fillText(String(v), AXIS_X + 2, py);
    });
    ctx.textAlign = 'right'; ctx.fillStyle = '#3a3a3a';
    ctx.fillText('FXCM Marketscope \u00a9 2016', PLOT_R - 1, a.bottom - 3);
    ctx.restore();
  }
};
new Chart(document.getElementById('osc'), {
  type: 'line',
  data: { datasets: [
    { data: pts(cdurUTS), borderWidth: 4.5, pointRadius: 0, fill: false, borderColor: '#ff88ff',
      segment: { borderColor: c => (c.p1.parsed.y >= c.p0.parsed.y ? '#8a8af0' : '#ff88ff') }, order: 2 },
    { data: pts(cdurUTC), borderWidth: 1.6, pointRadius: 0, fill: false, borderColor: '#ee0000',
      segment: { borderColor: c => (c.p1.parsed.y >= c.p0.parsed.y ? '#00e400' : '#ee0000') }, order: 1 }
  ] },
  options: {
    ...baseOpts,
    layout: { padding: { left: 0, right: 1903 - PLOT_R, top: 8, bottom: 5 } },
    scales: { x: xScale, y: { type: 'linear', min: 0, max: 100, display: false } }
  },
  plugins: [oscDecor]
});
</script>
</body>
</html>
